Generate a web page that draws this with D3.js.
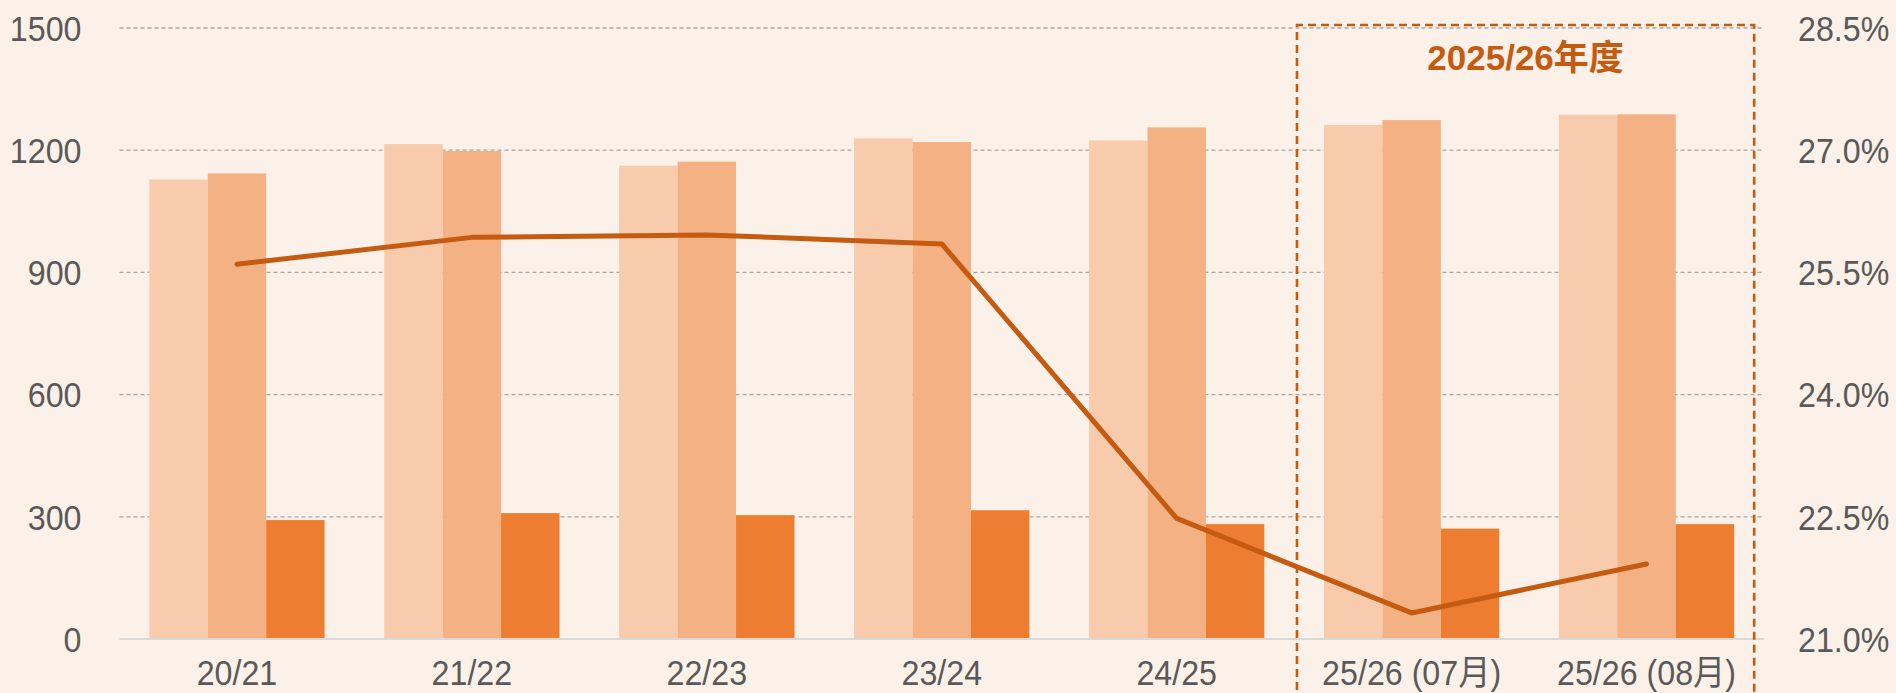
<!DOCTYPE html>
<html>
<head>
<meta charset="utf-8">
<script src="https://cdn.jsdelivr.net/npm/d3@7"></script>
<style>
  html, body { margin: 0; padding: 0; background: #fcf1e8; }
  svg { display: block; }
  text { font-family: 'Liberation Sans', 'Noto Sans CJK SC', sans-serif; }
</style>
</head>
<body>
<svg id="chart"></svg>
<script>
'use strict';

const categories = ['20/21', '21/22', '22/23', '23/24', '24/25', '25/26 (07月)', '25/26 (08月)'];
const seriesA = [1128, 1215, 1162, 1229, 1224, 1262, 1287];
const seriesB = [1143, 1198, 1172, 1220, 1256, 1274, 1288];
const seriesC = [292, 309, 304, 316, 282, 271, 282];
const ratio = [25.6, 25.93, 25.96, 25.85, 22.48, 21.32, 21.92];
const leftTicks = [0, 300, 600, 900, 1200, 1500];
const rightTicks = [21.0, 22.5, 24.0, 25.5, 27.0, 28.5];
const boxLabel = '2025/26年度';
const boxCats = ['25/26 (07月)', '25/26 (08月)'];

const width = 1896, height = 693;
const margin = { top: 28, right: 132, bottom: 54, left: 119.5 };
const barColors = ['#f8cbad', '#f4b183', '#ed7d31'];
const lineColor = '#c55a11';

const svg = d3.select('#chart')
  .attr('width', width)
  .attr('height', height);

const x = d3.scaleBand()
  .domain(categories)
  .range([margin.left, width - margin.right])
  .paddingInner(0.254)
  .paddingOuter(0.127);

const x1 = d3.scaleBand()
  .domain([0, 1, 2])
  .range([0, x.bandwidth()]);

const y = d3.scaleLinear()
  .domain([0, 1500])
  .range([height - margin.bottom, margin.top]);

const y2 = d3.scaleLinear()
  .domain([21, 28.5])
  .range([height - margin.bottom, margin.top]);

// grid
svg.append('g')
  .selectAll('line')
  .data(leftTicks.filter(d => d > 0))
  .enter().append('line')
  .attr('x1', margin.left)
  .attr('x2', width - margin.right)
  .attr('y1', d => y(d))
  .attr('y2', d => y(d))
  .attr('stroke', '#a6a6a6')
  .attr('stroke-width', 1.3)
  .attr('stroke-dasharray', '4,3');

// bars
const rows = categories.map((c, i) => ({ cat: c, vals: [seriesA[i], seriesB[i], seriesC[i]] }));

svg.append('g')
  .selectAll('g')
  .data(rows)
  .enter().append('g')
  .attr('transform', d => `translate(${x(d.cat)},0)`)
  .selectAll('rect')
  .data(d => d.vals)
  .enter().append('rect')
  .attr('x', (d, i) => x1(i))
  .attr('width', x1.bandwidth())
  .attr('y', d => y(d))
  .attr('height', d => y(0) - y(d))
  .attr('fill', (d, i) => barColors[i]);

// baseline
svg.append('line')
  .attr('x1', margin.left)
  .attr('x2', width - margin.right)
  .attr('y1', y(0))
  .attr('y2', y(0))
  .attr('stroke', '#d9d9d9')
  .attr('stroke-width', 2);

// ratio line
const line = d3.line()
  .x((d, i) => x(categories[i]) + x.bandwidth() / 2)
  .y(d => y2(d));

svg.append('path')
  .datum(ratio)
  .attr('d', line)
  .attr('fill', 'none')
  .attr('stroke', lineColor)
  .attr('stroke-width', 5)
  .attr('stroke-linejoin', 'round')
  .attr('stroke-linecap', 'round');

// axes
const axisLeft = svg.append('g')
  .attr('transform', `translate(${margin.left},0)`)
  .call(d3.axisLeft(y).tickValues(leftTicks).tickSize(0).tickPadding(38)
    .tickFormat(d3.format('d')));

const axisRight = svg.append('g')
  .attr('transform', `translate(${width - margin.right},0)`)
  .call(d3.axisRight(y2).tickValues(rightTicks).tickSize(0).tickPadding(34)
    .tickFormat(d => `${d.toFixed(1)}%`));

const axisBottom = svg.append('g')
  .attr('transform', `translate(0,${y(0)})`)
  .call(d3.axisBottom(x).tickSize(0).tickPadding(21));

[axisLeft, axisRight, axisBottom].forEach(g => {
  g.select('.domain').remove();
  g.selectAll('text')
    .attr('fill', '#595959')
    .style('font-size', '35px')
    .style('font-family', '\'Liberation Sans\', \'Noto Sans CJK SC\', sans-serif');
});
axisLeft.selectAll('text').attr('dy', '0.35em');
axisRight.selectAll('text').attr('dy', '0.35em');

// narrow the tick labels a little
svg.selectAll('.tick text').each(function () {
  const w = this.getComputedTextLength();
  d3.select(this)
    .attr('textLength', w * 0.92)
    .attr('lengthAdjust', 'spacingAndGlyphs');
});

// highlighted season box
const boxLeft = x(boxCats[0]) - 27;
const boxRight = x(boxCats[1]) + x.bandwidth() + 20;
const boxTop = y(1500) - 3;

svg.append('path')
  .attr('d', `M${boxLeft},${height + 10}V${boxTop}H${boxRight}V${height + 10}`)
  .attr('fill', 'none')
  .attr('stroke', lineColor)
  .attr('stroke-width', 2.6)
  .attr('stroke-dasharray', '8,5');

svg.append('text')
  .attr('x', (boxLeft + boxRight) / 2)
  .attr('y', 70)
  .attr('text-anchor', 'middle')
  .attr('fill', lineColor)
  .style('font-size', '35px')
  .style('font-weight', 'bold')
  .text(boxLabel);
</script>
</body>
</html>
